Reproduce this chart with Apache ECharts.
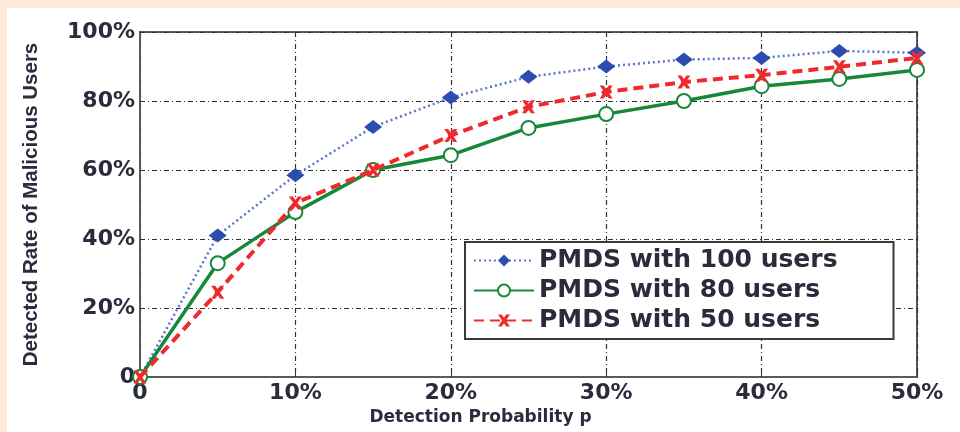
<!DOCTYPE html>
<html>
<head>
<meta charset="utf-8">
<script src="https://cdn.jsdelivr.net/npm/echarts@6/dist/echarts.min.js"></script>
<style>
  html, body { margin: 0; padding: 0; background: #ffffff; }
  #chart { width: 960px; height: 432px; }
</style>
</head>
<body>
<div id="chart"></div>
<script>
// Detection probability p (%) on the x axis
const detectionProb = [0, 5, 10, 15, 20, 25, 30, 35, 40, 45, 50];

// Detected rate of malicious users (%)
const users100 = [0, 41, 58.5, 72.5, 81, 87, 90, 92, 92.5, 94.5, 94];
const users80  = [0, 33, 47.8, 60, 64.3, 72.2, 76.2, 80, 84.3, 86.4, 89];
const users50  = [0, 24.6, 50.4, 60, 70, 78.3, 82.6, 85.5, 87.5, 89.9, 92.5];

const seriesNames = ['PMDS with 100 users', 'PMDS with 80 users', 'PMDS with 50 users'];

const xTicks = [0, 10, 20, 30, 40, 50];
const yTicks = [0, 20, 40, 60, 80, 100];

const xTitle = 'Detection Probability p';
const yTitle = 'Detected Rate of Malicious Users';

const textColor = '#2a2c3c';
const tickFont = "'DejaVu Sans', sans-serif";
const gridDash = [5, 3, 1, 3];

function pairs(ys) {
  return detectionProb.map((x, i) => [x, ys[i]]);
}
function pctLabel(v) {
  return v === 0 ? '0' : v + '%';
}

const crossPath = 'path://M0,0 L3,0 L5,2.6 L7,0 L10,0 L6.6,5 L10,10 L7,10 L5,7.4 L3,10 L0,10 L3.4,5 Z';

const chart = echarts.init(document.getElementById('chart'));
chart.setOption({
  backgroundColor: '#ffffff',
  animation: false,
  graphic: [
    { type: 'rect', shape: { x: 0, y: 0, width: 960, height: 8 }, style: { fill: '#fce9db' }, z: -10 },
    { type: 'rect', shape: { x: 0, y: 0, width: 7, height: 432 }, style: { fill: '#fce9db' }, z: -10 }
  ],
  grid: {
    left: 140, right: 43, top: 32, bottom: 55,
    show: true, borderColor: '#5a5a5a', borderWidth: 2, backgroundColor: '#ffffff'
  },
  legend: {
    orient: 'vertical',
    left: 465, top: 242,
    backgroundColor: '#ffffff',
    borderColor: '#3a3a3a', borderWidth: 2, borderRadius: 0,
    padding: [6, 56, 6, 8],
    itemWidth: 60, itemHeight: 15, itemGap: 5,
    data: seriesNames,
    textStyle: { fontFamily: tickFont, fontWeight: 'bold', fontSize: 25, color: textColor }
  },
  xAxis: {
    type: 'value', min: xTicks[0], max: xTicks[xTicks.length - 1], interval: 10,
    name: xTitle, nameLocation: 'middle', nameGap: 24,
    nameTextStyle: { fontFamily: tickFont, fontWeight: 'bold', fontSize: 17, color: textColor, padding: [0, 96, 0, 0] },
    axisLine: { show: true, lineStyle: { color: '#5a5a5a', width: 2 } },
    axisTick: { show: true, inside: true, length: 5, lineStyle: { color: '#333' } },
    axisLabel: {
      fontFamily: tickFont, fontWeight: 'bold', fontSize: 22, color: textColor, margin: 5,
      formatter: pctLabel
    },
    splitLine: { show: true, lineStyle: { color: '#333', width: 1.2, type: gridDash } }
  },
  yAxis: {
    type: 'value', min: yTicks[0], max: yTicks[yTicks.length - 1], interval: 20,
    name: yTitle, nameLocation: 'middle', nameRotate: 90, nameGap: 98,
    nameTextStyle: { fontFamily: "'Liberation Sans', Arial, sans-serif", fontWeight: 'bold', fontSize: 20.5, color: textColor },
    axisLine: { show: true, lineStyle: { color: '#5a5a5a', width: 2 } },
    axisTick: { show: true, inside: true, length: 5, lineStyle: { color: '#333' } },
    axisLabel: {
      fontFamily: tickFont, fontWeight: 'bold', fontSize: 22, color: textColor, margin: 5,
      formatter: pctLabel
    },
    splitLine: { show: true, lineStyle: { color: '#333', width: 1.2, type: gridDash } }
  },
  series: [
    {
      name: seriesNames[0], type: 'line', data: pairs(users100),
      symbol: 'diamond', symbolSize: [18, 14],
      lineStyle: { color: '#5b74cc', width: 2.5, type: [2, 3] },
      itemStyle: { color: '#2d4cb0' },
      z: 3
    },
    {
      name: seriesNames[1], type: 'line', data: pairs(users80),
      symbol: 'emptyCircle', symbolSize: 14,
      lineStyle: { color: '#17883a', width: 3.5 },
      itemStyle: { color: '#17883a', borderColor: '#17883a', borderWidth: 3 },
      z: 4
    },
    {
      name: seriesNames[2], type: 'line', data: pairs(users50),
      symbol: crossPath, symbolSize: 13,
      lineStyle: { color: '#ee2a2e', width: 4, type: [10, 6] },
      itemStyle: { color: '#ee2a2e' },
      z: 5
    }
  ]
});
</script>
</body>
</html>
